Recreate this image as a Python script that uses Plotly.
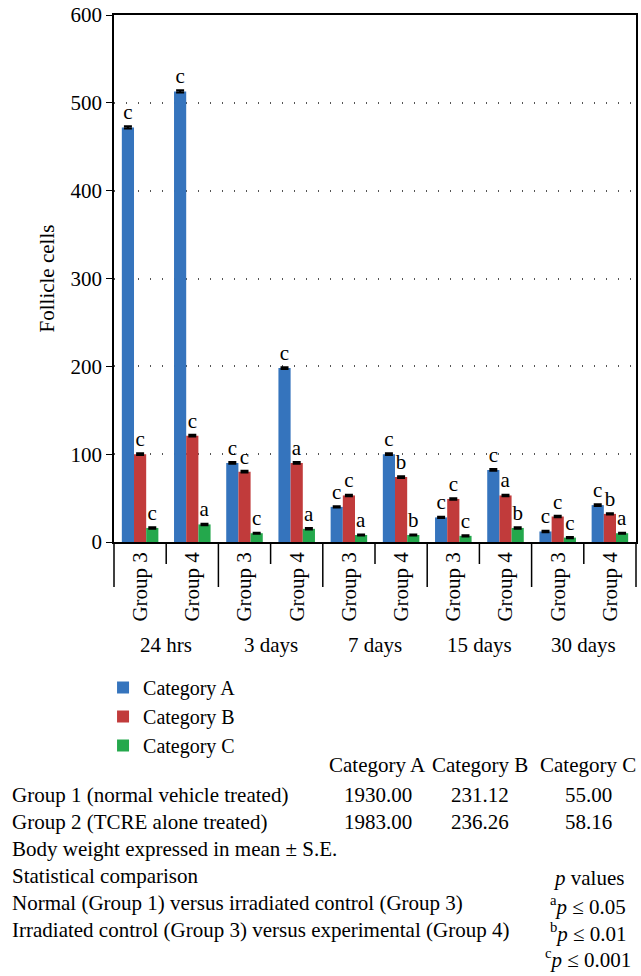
import plotly.graph_objects as go

times = ["24 hrs", "3 days", "7 days", "15 days", "30 days"]
groups = ["Group 3", "Group 4"]
series = ["Category A", "Category B", "Category C"]

cat_a = [472, 513, 90, 198, 40, 100, 28, 82, 12, 42]
cat_b = [100, 121, 80, 90, 53, 74, 49, 53, 29, 32]
cat_c = [16, 20, 10, 15, 8, 8, 7, 16, 5, 10]
se_a = [1.2, 1.2, 1.0, 1.0, 0.8, 1.0, 0.8, 1.0, 0.8, 1.0]
se_b = [1.0, 1.0, 1.0, 1.0, 0.8, 1.0, 0.8, 0.8, 0.8, 0.8]
se_c = [0.8, 0.8, 0.6, 0.8, 0.6, 0.6, 0.6, 0.8, 0.6, 0.6]
sig_a = ["c", "c", "c", "c", "c", "c", "c", "c", "c", "c"]
sig_b = ["c", "c", "c", "a", "c", "b", "c", "a", "c", "b"]
sig_c = ["c", "a", "c", "a", "a", "b", "c", "b", "c", "a"]

table_header = ["Category A", "Category B", "Category C"]
group1_label = "Group 1 (normal vehicle treated)"
group1_vals = ["1930.00", "231.12", "55.00"]
group2_label = "Group 2 (TCRE alone treated)"
group2_vals = ["1983.00", "236.26", "58.16"]
notes = [
    "Body weight expressed in mean ± S.E.",
    "Statistical comparison",
    "Normal (Group 1) versus irradiated control (Group 3)",
    "Irradiated control (Group 3) versus experimental (Group 4)",
]
p_labels = ["<i>p</i> values", "<sup>a</sup><i>p</i> ≤ 0.05",
            "<sup>b</sup><i>p</i> ≤ 0.01", "<sup>c</sup><i>p</i> ≤ 0.001"]

colors = ["#3574bd", "#c13b3b", "#24a84c"]
FONT = "Liberation Serif"
FS = 21

cats = [f"{t} / {g}" for t in times for g in groups]
cat_labels = [g for t in times for g in groups]
n_cat = len(cats)
ng = len(groups)

fig = go.Figure()
for name, vals, se, sig, col in zip(series, [cat_a, cat_b, cat_c],
                                    [se_a, se_b, se_c],
                                    [sig_a, sig_b, sig_c], colors):
    fig.add_trace(go.Bar(
        name=name, x=cats, y=vals, marker=dict(color=col, line=dict(width=0)),
        error_y=dict(type="data", array=se, color="black", thickness=2, width=4),
        text=sig, textposition="outside", constraintext="none",
        textfont=dict(family=FONT, size=FS, color="black"),
        cliponaxis=False,
    ))

L, R, T, B = 114, 3, 15, 434
W, H = 641, 976
pw, ph = W - L - R, H - T - B


def X(px):
    return (px - L) / pw


def Y(py):
    return (H - B - py) / ph


ann = []
# time-point labels centred under each pair of groups
for k, t in enumerate(times):
    ann.append(dict(x=k * ng + (ng - 1) / 2, xref="x", y=Y(645), text=t,
                    xanchor="center"))
hdr_x = [379, 481, 590]
for hx, txt in zip(hdr_x, table_header):
    ann.append(dict(x=X(hx), y=Y(765), text=txt, xanchor="center"))
ann.append(dict(x=X(10), y=Y(795), text=group1_label, xanchor="left"))
ann.append(dict(x=X(10), y=Y(822), text=group2_label, xanchor="left"))
for hx, v in zip(hdr_x, group1_vals):
    ann.append(dict(x=X(hx), y=Y(795), text=v, xanchor="center"))
for hx, v in zip(hdr_x, group2_vals):
    ann.append(dict(x=X(hx), y=Y(822), text=v, xanchor="center"))
for py, txt in zip([849, 876, 903, 930], notes):
    ann.append(dict(x=X(10), y=Y(py), text=txt, xanchor="left"))
for py, txt in zip([878, 905, 932, 958], p_labels):
    ann.append(dict(x=X(590), y=Y(py), text=txt, xanchor="center"))
for a in ann:
    a.setdefault("xref", "paper")
    a.update(yref="paper", yanchor="middle", showarrow=False,
             font=dict(family=FONT, size=FS, color="black"))

# category boundary ticks: short between groups, long between time points
shapes = []
for i in range(n_cat + 1):
    long_ = (i % ng == 0)
    shapes.append(dict(type="line", xref="paper", yref="paper",
                       x0=i / n_cat, x1=i / n_cat, y0=0,
                       y1=Y(587) if long_ else Y(564),
                       line=dict(color="black", width=1.5)))

fig.update_layout(
    width=W, height=H, margin=dict(l=L, r=R, t=T, b=B),
    plot_bgcolor="white", paper_bgcolor="white",
    barmode="group", bargap=0.3, bargroupgap=0,
    font=dict(family=FONT, size=FS, color="black"),
    showlegend=True,
    legend=dict(x=X(103), y=Y(668), xanchor="left", yanchor="top",
                font=dict(family=FONT, size=20), bgcolor="rgba(0,0,0,0)"),
    annotations=ann, shapes=shapes,
)
fig.update_yaxes(range=[0, 600], dtick=100, showgrid=True, gridcolor="#555",
                 griddash="1px,11px", gridwidth=1.5, showline=True,
                 linecolor="black", linewidth=1.5, mirror=True,
                 ticks="outside", ticklen=6, tickcolor="black", zeroline=False,
                 title=dict(text="Follicle cells", standoff=10,
                            font=dict(family=FONT, size=FS)))
fig.update_xaxes(type="category", categoryorder="array", categoryarray=cats,
                 tickmode="array", tickvals=cats, ticktext=cat_labels,
                 tickangle=-90, ticks="", showline=True, linecolor="black",
                 linewidth=1.5, mirror=True)

fig.write_html("out.html", config={"displayModeBar": False},
               post_script="document.body.style.margin='0';"
                           "document.body.style.overflow='hidden';")
